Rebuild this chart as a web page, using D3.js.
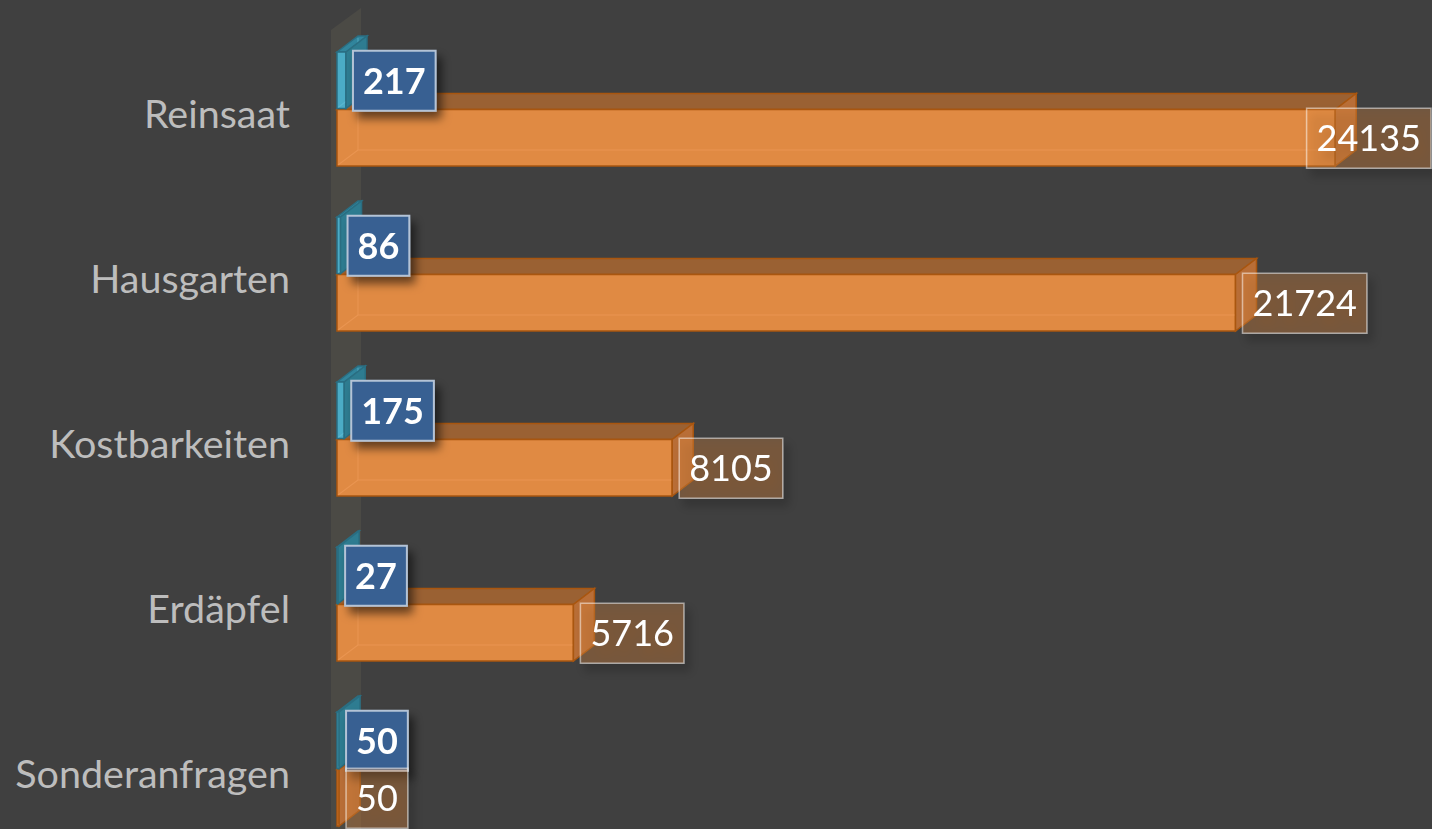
<!DOCTYPE html>
<html>
<head>
<meta charset="utf-8">
<script src="https://cdn.jsdelivr.net/npm/d3@7"></script>
<style>
  html, body { margin: 0; padding: 0; background: #404040; }
  svg { display: block; }
</style>
</head>
<body>
<div id="chart"></div>
<script>
const categories = ["Reinsaat", "Hausgarten", "Kostbarkeiten", "Erdäpfel", "Sonderanfragen"];
const seriesKeys = ["blau", "orange"];
const valuesBlau = [217, 86, 175, 27, 50];
const valuesOrange = [24135, 21724, 8105, 5716, 50];

const width = 1432;
const height = 829;
const depth = { dx: 21, dy: -16 };

const styles = {
    blau: { front: "#4bacc6", top: "#31859c", side: "#2e7c91", stroke: "#2a6e82", edge: "#6cc4da" },
    orange: { front: "#e08a43", top: "#9a6133", side: "#b96e37", stroke: "#a9560f", edge: "#f3a262" },
}

const rows = categories.map((c, i) => ({
    category: c,
    bars: [
        { key: "blau", value: valuesBlau[i] },
        { key: "orange", value: valuesOrange[i] },
    ]
}));

const svg = d3.select("#chart")
    .append("svg")
    .attr("width", width)
    .attr("height", height)
    .style("background", "#404040");

const defs = svg.append("defs");
const shadow = defs.append("filter")
    .attr("id", "shadow")
    .attr("x", "-30%").attr("y", "-30%")
    .attr("width", "170%").attr("height", "170%");
shadow.append("feDropShadow")
    .attr("dx", 5).attr("dy", 7)
    .attr("stdDeviation", 5)
    .attr("flood-color", "#000")
    .attr("flood-opacity", 0.55);

const x = d3.scaleLinear()
    .domain([0, 25000])
    .range([337, 1371]);

const y = d3.scaleBand()
    .domain(categories)
    .range([27, 852])
    .paddingInner(50 / 165)
    .paddingOuter(25 / 165);

const ySub = d3.scaleBand()
    .domain(seriesKeys)
    .range([0, y.bandwidth()]);

// side wall at the value axis
const x0 = x(0);
svg.append("polygon")
    .attr("points", [
        [x0 - 6, 30], [x0 - 6 + 30, 8], [x0 - 6 + 30, height + 5], [x0 - 6, height + 5]
    ].map(p => p.join(",")).join(" "))
    .attr("fill", "#4b4a45");

// category labels
svg.append("g")
    .selectAll("text")
    .data(categories)
    .join("text")
    .attr("x", 290)
    .attr("y", c => y(c) + 76)
    .attr("text-anchor", "end")
    .attr("fill", "#bdbdbd")
    .style("font-family", "Lato, 'Open Sans', sans-serif")
    .style("font-size", "39.5px")
    .text(c => c);

const pts = arr => arr.map(p => p.join(",")).join(" ");

const bars = svg.append("g")
    .selectAll("g.row")
    .data(rows)
    .join("g")
    .attr("class", "row")
    .attr("transform", d => `translate(0,${y(d.category)})`);

// orange first, blue on top of it
const bar = bars.selectAll("g.bar")
    .data(d => [d.bars[1], d.bars[0]])
    .join("g")
    .attr("class", "bar")
    .each(function (b) {
        const g = d3.select(this);
        const s = styles[b.key];
        const a = x(0), e = x(b.value);
        const t = ySub(b.key), h = ySub.bandwidth() - 1;
        const { dx, dy } = depth;
        g.append("polygon")
            .attr("points", pts([[a, t], [a + dx, t + dy], [e + dx, t + dy], [e, t]]))
            .attr("fill", s.top).attr("stroke", s.stroke).attr("stroke-width", 1.5);
        g.append("rect")
            .attr("x", a).attr("y", t)
            .attr("width", e - a).attr("height", h)
            .attr("fill", s.front).attr("stroke", s.stroke).attr("stroke-width", 1.5);
        g.append("polyline")
            .attr("points", pts([[a + dx, t + dy + 2], [a + dx, t + h + dy], [e + dx - 2, t + h + dy]]))
            .attr("fill", "none").attr("stroke", s.edge).attr("stroke-opacity", 0.45).attr("stroke-width", 1.2);
        g.append("line")
            .attr("x1", a + 1).attr("y1", t + h - 1)
            .attr("x2", a + dx).attr("y2", t + h + dy)
            .attr("stroke", s.edge).attr("stroke-opacity", 0.45).attr("stroke-width", 1.2);
        g.append("polygon")
            .attr("points", pts([[e, t], [e + dx, t + dy], [e + dx, t + h + dy], [e, t + h]]))
            .attr("fill", s.side).attr("stroke", s.stroke).attr("stroke-width", 1.5);
    });

// data labels
const labelLayer = svg.append("g");
rows.forEach(r => {
    r.bars.forEach(b => {
        const blue = b.key === "blau";
        const cy = y(r.category) + ySub(b.key) + ySub.bandwidth() / 2;
        const g = labelLayer.append("g").attr("filter", "url(#shadow)");
        const box = g.append("rect");
        const txt = g.append("text")
            .attr("fill", "#ffffff")
            .style("font-family", "Lato, 'Open Sans', sans-serif")
            .style("font-size", "36px")
            .style("font-weight", blue ? 700 : 400)
            .text(b.value);
        const tw = txt.node().getComputedTextLength();
        const bw = tw + 20, bh = 60;
        let left = x(b.value) + 7;
        if (left + bw > width) left = width - bw - 1;
        box.attr("x", left).attr("y", cy - bh / 2)
            .attr("width", bw).attr("height", bh)
            .attr("fill", blue ? "#376092" : "rgba(224,138,67,0.3)")
            .attr("stroke", blue ? "#b4c3d6" : "rgba(255,255,255,0.5)")
            .attr("stroke-width", blue ? 2 : 1.5);
        txt.attr("x", left + 10).attr("y", cy + 13);
    });
});
</script>
</body>
</html>
